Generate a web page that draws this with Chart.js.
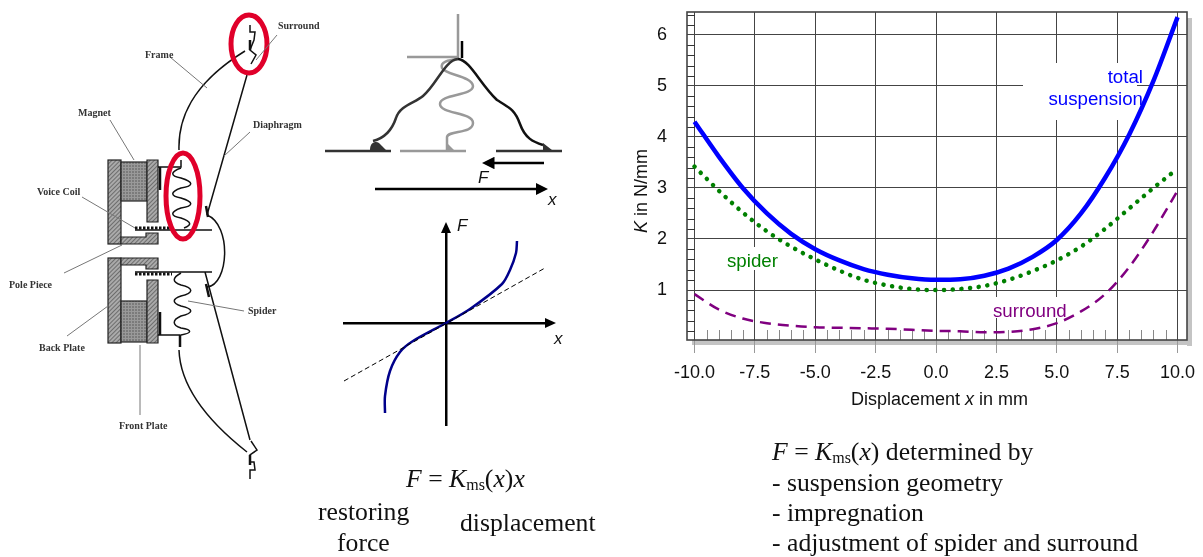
<!DOCTYPE html>
<html>
<head>
<meta charset="utf-8">
<title>Suspension stiffness</title>
<script src="https://cdn.jsdelivr.net/npm/chart.js@4"></script>
<style>
    body { margin: 0; background: #fff; overflow: hidden; }
    #page { position: relative; width: 1203px; height: 557px; overflow: hidden; }
    canvas, svg { position: absolute; }
    #sketch { left: 0; top: 0; }
    #stiffness { left: 620px; top: 0; }
    #curve { left: 330px; top: 210px; }
    .lbl { font: bold 10px "Liberation Serif"; fill: #333; }
    .serif { font: 25.7px "Liberation Serif"; fill: #111; }
    .sans { font: italic 17px "Liberation Sans"; fill: #111; }
    .axis { font: 18px "Liberation Sans"; fill: #111; }
    .hatch { fill: url(#h); stroke: #222; stroke-width: 1.2; }
    .dots { fill: url(#d); stroke: #222; stroke-width: 1.2; }
    .lead { stroke: #777; stroke-width: 1; fill: none; }
    .ln { stroke: #111; stroke-width: 1.5; fill: none; }
</style>
</head>
<body>
<div id="page">
<canvas id="stiffness" width="583" height="420"></canvas>
<canvas id="curve" width="240" height="225"></canvas>
<svg id="sketch" width="1203" height="557" xmlns="http://www.w3.org/2000/svg">
    <defs>
        <pattern id="h" width="3" height="3" patternUnits="userSpaceOnUse" patternTransform="rotate(45)">
            <rect width="3" height="3" fill="#aaa"/><line x1="0" y1="0" x2="0" y2="3" stroke="#444" stroke-width="1.2"/>
        </pattern>
        <pattern id="d" width="3" height="3" patternUnits="userSpaceOnUse">
            <rect width="3" height="3" fill="#999"/><circle cx="1" cy="1" r=".8" fill="#555"/>
        </pattern>
        <marker id="ah" markerWidth="5" markerHeight="5" refX="1" refY="2.5" orient="auto"><path d="M0 0L5 2.5L0 5Z" fill="#000"/></marker>
    </defs>

    <!-- loudspeaker section -->
    <rect class="hatch" x="108" y="160" width="13" height="84"/>
    <rect class="dots" x="121" y="162" width="26" height="39"/>
    <path class="hatch" d="M147 160H158V222H147Z"/>
    <path class="hatch" d="M121 237H146V233H158V244H121Z"/>
    <rect class="hatch" x="108" y="258" width="13" height="85"/>
    <rect class="dots" x="121" y="301" width="26" height="41"/>
    <path class="hatch" d="M147 280H158V343H147Z"/>
    <path class="hatch" d="M121 258H158V269H146V265H121Z"/>
    <path class="ln" d="M135 230H212M135 272H212M158 167H181V160M158 335H180V346M207 215C232 225 229 285 207 287M207 215L247 75M205 272L250 440"/>
    <path d="M160 167V190M160 312V335M180 335V347M206 206L208 217M206 284L209 297" stroke="#111" stroke-width="2.5" fill="none"/>
    <path class="ln" stroke-dasharray="2.5 1.5" d="M135 228H172M135 274H172" style="stroke-width:3"/>
    <path class="ln" d="M179 150C178 120 190 85 245 51M179 350C180 380 200 415 247 452"/>
    <path class="ln" d="M181 168C170 172 170 176 181 178C194 182 194 186 181 188C170 192 170 196 181 198C194 202 194 206 181 208C170 212 170 216 181 218C192 222 192 225 184 228"/>
    <path class="ln" d="M181 273C172 278 172 282 181 285C194 288 194 293 181 296C172 299 172 303 181 306C194 309 194 313 181 316C172 320 172 325 181 328C193 330 192 333 181 335"/>
    <path class="ln" d="M250 25V32H255L254 40L250 50L256 55L251 64"/>
    <path class="ln" d="M251 441L257 450L250 455V462H254L255 470H250V479"/>
    <path d="M250 40V50M250 455V465" stroke="#111" stroke-width="2.5" fill="none"/>
    <ellipse cx="249" cy="44" rx="18" ry="29" fill="none" stroke="#e0002a" stroke-width="5"/>
    <ellipse cx="183" cy="196" rx="17" ry="43" fill="none" stroke="#e0002a" stroke-width="5"/>
    <path class="lead" d="M277 35L256 60M170 57L207 88M110 120L134 160M250 132L224 156M82 197L135 228M64 273L122 245M244 311L188 301M67 336L108 306M140 345V415"/>
    <text class="lbl" x="278" y="29">Surround</text>
    <text class="lbl" x="145" y="58">Frame</text>
    <text class="lbl" x="78" y="116">Magnet</text>
    <text class="lbl" x="253" y="128">Diaphragm</text>
    <text class="lbl" x="37" y="195">Voice Coil</text>
    <text class="lbl" x="9" y="288">Pole Piece</text>
    <text class="lbl" x="248" y="314">Spider</text>
    <text class="lbl" x="39" y="351">Back Plate</text>
    <text class="lbl" x="119" y="429">Front Plate</text>

    <!-- suspension sketch -->
    <path d="M458 14V57H407" stroke="#999" stroke-width="2.5" fill="none"/>
    <path d="M462 41V58" stroke="#000" stroke-width="2.5"/>
    <path d="M458 59C448 60 440 62 442 68C445 75 472 76 473 86C473 96 440 94 440 104C440 114 473 112 473 123C473 134 448 130 447 137V150" stroke="#999" stroke-width="2.5" fill="none"/>
    <path d="M373 141C385 138 392 130 396 118C400 105 415 103 423 96C437 84 445 60 458 59" stroke="#333" stroke-width="2.5" fill="none"/>
    <path d="M458 59C470 60 480 84 497 100C510 108 515 110 520 124C525 138 533 142 543 145" stroke="#111" stroke-width="2.5" fill="none"/>
    <path d="M325 151H391M496 151H562" stroke="#333" stroke-width="2.5"/>
    <path d="M400 151H466" stroke="#999" stroke-width="2.5"/>
    <path d="M370 150C370 142 376 141 379 143L386 150ZM543 150V143L552 150Z" fill="#333"/>
    <path d="M447 150V143L454 150Z" fill="#999"/>
    <path d="M544 163H492" stroke="#000" stroke-width="2.5" marker-end="url(#ah)"/>
    <path d="M375 189H538" stroke="#000" stroke-width="2.5" marker-end="url(#ah)"/>
    <text class="sans" x="478" y="183">F</text>
    <text class="sans" x="548" y="205">x</text>
    <text class="sans" x="457" y="231">F</text>
    <text class="sans" x="554" y="344">x</text>

    <!-- text -->
    <text class="serif" x="406" y="487"><tspan font-style="italic">F</tspan> = <tspan font-style="italic">K</tspan><tspan font-size="16" dy="3">ms</tspan><tspan dy="-3">(</tspan><tspan font-style="italic">x</tspan>)<tspan font-style="italic">x</tspan></text>
    <text class="serif" x="318" y="520">restoring</text>
    <text class="serif" x="337" y="551">force</text>
    <text class="serif" x="460" y="531">displacement</text>
    <text class="serif" x="772" y="460"><tspan font-style="italic">F</tspan> = <tspan font-style="italic">K</tspan><tspan font-size="16" dy="3">ms</tspan><tspan dy="-3">(</tspan><tspan font-style="italic">x</tspan>) determined by</text>
    <text class="serif" x="772" y="491">- suspension geometry</text>
    <text class="serif" x="772" y="521">- impregnation</text>
    <text class="serif" x="772" y="551">- adjustment of spider and surround</text>
    <text class="axis" x="851" y="405">Displacement <tspan font-style="italic">x</tspan> in mm</text>
    <text class="axis" transform="translate(647,233) rotate(-90)"><tspan font-style="italic">K</tspan> in N/mm</text>
</svg>
</div>

<script>
// stiffness curves, K in N/mm against displacement in mm
const displacement = [-10, -9, -8, -7, -6, -5, -4, -3, -2, -1, 0, 1, 2, 3, 4, 5, 6, 7, 8, 9, 10];
const totalK =    [4.3, 3.62, 3.0, 2.5, 2.1, 1.8, 1.58, 1.41, 1.3, 1.23, 1.2, 1.21, 1.28, 1.42, 1.65, 1.98, 2.5, 3.2, 4.05, 5.1, 6.35];
const spiderK =   [3.42, 2.95, 2.52, 2.15, 1.85, 1.6, 1.38, 1.2, 1.09, 1.02, 1.0, 1.02, 1.08, 1.2, 1.37, 1.58, 1.85, 2.2, 2.6, 3.0, 3.38];
const surroundK = [0.92, 0.62, 0.44, 0.35, 0.3, 0.27, 0.26, 0.25, 0.24, 0.22, 0.2, 0.19, 0.17, 0.18, 0.23, 0.35, 0.58, 0.92, 1.45, 2.15, 2.95];
const xTicks = [-10, -7.5, -5, -2.5, 0, 2.5, 5, 7.5, 10];
const yTicks = [1, 2, 3, 4, 5, 6];
const xMinor = [-9.5, -9, -8.5, -8, -7, -6.5, -6, -5.5, -4.5, -4, -3.5, -3, -2, -1.5, -1, -0.5, 0.5, 1, 1.5, 2, 3, 3.5, 4, 4.5, 5.5, 6, 6.5, 7, 8, 8.5, 9, 9.5];
const yMinor = [0.2, 0.4, 0.6, 0.8, 1.2, 1.4, 1.6, 1.8, 2.2, 2.4, 2.6, 2.8, 3.2, 3.4, 3.6, 3.8, 4.2, 4.4, 4.6, 4.8, 5.2, 5.4, 5.6, 5.8, 6.2, 6.4];

// force against displacement sketch
const forceX = [-6.1, -6.1, -5.6, -4.6, -3.3, 0, 2.4, 5.6, 6.4, 7.0, 7.1];
const forceY = [-9.0, -7.3, -4.8, -2.9, -1.8, 0, 1.4, 3.9, 5.3, 7.0, 8.2];
const linearX = [-10.2, 9.9];
const linearY = [-5.8, 5.5];

const toPoints = (xs, ys) => xs.map((x, i) => ({ x: x, y: ys[i] }));

// fixed scale sizes so the plot area lands where the frame has to be
const fixWidth = w => s => { s.width = w; s.paddingTop = 0; s.paddingBottom = 0; };
const fixHeight = h => s => { s.height = h; s.paddingLeft = 0; s.paddingRight = 0; };

// frame, drop shadow, inner ticks and the curve labels of the stiffness plot
const plotDecor = {
    id: 'plotDecor',
    beforeDraw(chart) {
        const c = chart.ctx, a = chart.chartArea;
        c.fillStyle = '#c4c4c4';
        c.fillRect(a.right, a.top + 6, 5, a.height);
        c.fillRect(a.left + 5, a.bottom, a.width, 5);
    },
    beforeDatasetsDraw(chart) {
        const c = chart.ctx, a = chart.chartArea;
        const xs = chart.scales.x, ys = chart.scales.y;
        c.save();
        c.strokeStyle = '#888';
        c.lineWidth = 1;
        xMinor.forEach(v => {
            const p = Math.round(xs.getPixelForValue(v)) + 0.5;
            c.beginPath(); c.moveTo(p, a.bottom); c.lineTo(p, a.bottom - 10); c.stroke();
        });
        c.strokeStyle = '#333';
        yMinor.forEach(v => {
            const p = Math.round(ys.getPixelForValue(v)) + 0.5;
            c.beginPath(); c.moveTo(a.left, p); c.lineTo(a.left + 8, p); c.stroke();
        });
        // white boxes behind the curve labels
        c.fillStyle = '#fff';
        c.fillRect(1023 - 620, 63, 114, 57);
        c.fillRect(725 - 620, 247, 55, 23);
        c.fillRect(990 - 620, 297, 80, 21);
        c.strokeStyle = '#444';
        c.lineWidth = 1.6;
        c.strokeRect(a.left, a.top, a.width, a.height);
        c.restore();
    },
    afterDatasetsDraw(chart) {
        const c = chart.ctx;
        c.save();
        c.font = '18.7px "Liberation Sans"';
        c.textAlign = 'right';
        c.fillStyle = '#0000ff';
        c.fillText('total', 1143 - 620, 83);
        c.fillText('suspension', 1143 - 620, 105);
        c.textAlign = 'left';
        c.fillStyle = '#008000';
        c.fillText('spider', 727 - 620, 267);
        c.fillStyle = '#800080';
        c.fillText('surround', 993 - 620, 317);
        c.restore();
    }
};

new Chart(document.getElementById('stiffness'), {
    type: 'line',
    data: {
        datasets: [
            { label: 'total', data: toPoints(displacement, totalK), borderColor: '#0000ff', borderWidth: 4.5 },
            { label: 'spider', data: toPoints(displacement, spiderK), borderColor: '#008000', borderWidth: 4.5, borderDash: [0.1, 8.6], borderCapStyle: 'round' },
            { label: 'surround', data: toPoints(displacement, surroundK), borderColor: '#800080', borderWidth: 2.5, borderDash: [11, 7] }
        ]
    },
    options: {
        responsive: false,
        animation: false,
        devicePixelRatio: 1,
        elements: { point: { radius: 0 }, line: { cubicInterpolationMode: 'monotone' } },
        layout: { padding: { left: 0, top: 12, right: 16, bottom: 0 } },
        plugins: { legend: { display: false }, tooltip: { enabled: false } },
        scales: {
            x: {
                type: 'linear',
                min: -10.31,
                max: 10.39,
                afterFit: fixHeight(80),
                afterBuildTicks: s => { s.ticks = xTicks.map(v => ({ value: v })); },
                grid: { color: '#444', lineWidth: 1, tickLength: 13, tickColor: '#999' },
                border: { display: false },
                ticks: {
                    autoSkip: false, maxRotation: 0, padding: 9, color: '#111',
                    font: { family: 'Liberation Sans', size: 18 },
                    callback: v => v.toFixed(1)
                }
            },
            y: {
                type: 'linear',
                min: 0.02,
                max: 6.45,
                afterFit: fixWidth(67),
                afterBuildTicks: s => { s.ticks = yTicks.map(v => ({ value: v })); },
                grid: { color: '#444', lineWidth: 1, drawTicks: false },
                border: { display: false },
                ticks: {
                    padding: 20, color: '#111',
                    font: { family: 'Liberation Sans', size: 18 },
                    callback: v => String(v)
                }
            }
        }
    },
    plugins: [plotDecor]
});

// arrow heads on the two centre axes
const axisArrows = {
    id: 'axisArrows',
    afterDraw(chart) {
        const c = chart.ctx, a = chart.chartArea;
        const x0 = chart.scales.x.getPixelForValue(0), y0 = chart.scales.y.getPixelForValue(0);
        c.save();
        c.fillStyle = '#000';
        c.beginPath(); c.moveTo(a.right + 10, y0); c.lineTo(a.right - 1, y0 - 5); c.lineTo(a.right - 1, y0 + 5); c.fill();
        c.beginPath(); c.moveTo(x0, a.top - 10); c.lineTo(x0 - 5, a.top + 1); c.lineTo(x0 + 5, a.top + 1); c.fill();
        c.restore();
    }
};

new Chart(document.getElementById('curve'), {
    type: 'line',
    data: {
        datasets: [
            { data: toPoints(linearX, linearY), borderColor: '#000', borderWidth: 1, borderDash: [5, 3] },
            { data: toPoints(forceX, forceY), borderColor: '#00008b', borderWidth: 2.5, tension: 0.3 }
        ]
    },
    options: {
        responsive: false,
        animation: false,
        devicePixelRatio: 1,
        elements: { point: { radius: 0 } },
        layout: { padding: { left: 14, top: 22, right: 24, bottom: 10 } },
        plugins: { legend: { display: false }, tooltip: { enabled: false } },
        scales: {
            x: {
                type: 'linear', min: -10.2, max: 10, position: { y: 0 },
                afterFit: fixHeight(0),
                grid: { display: false },
                ticks: { display: false },
                border: { color: '#000', width: 2.5 }
            },
            y: {
                type: 'linear', min: -10.2, max: 9.1, position: { x: 0 },
                afterFit: fixWidth(0),
                grid: { display: false },
                ticks: { display: false },
                border: { color: '#000', width: 2.5 }
            }
        }
    },
    plugins: [axisArrows]
});
</script>
</body>
</html>
